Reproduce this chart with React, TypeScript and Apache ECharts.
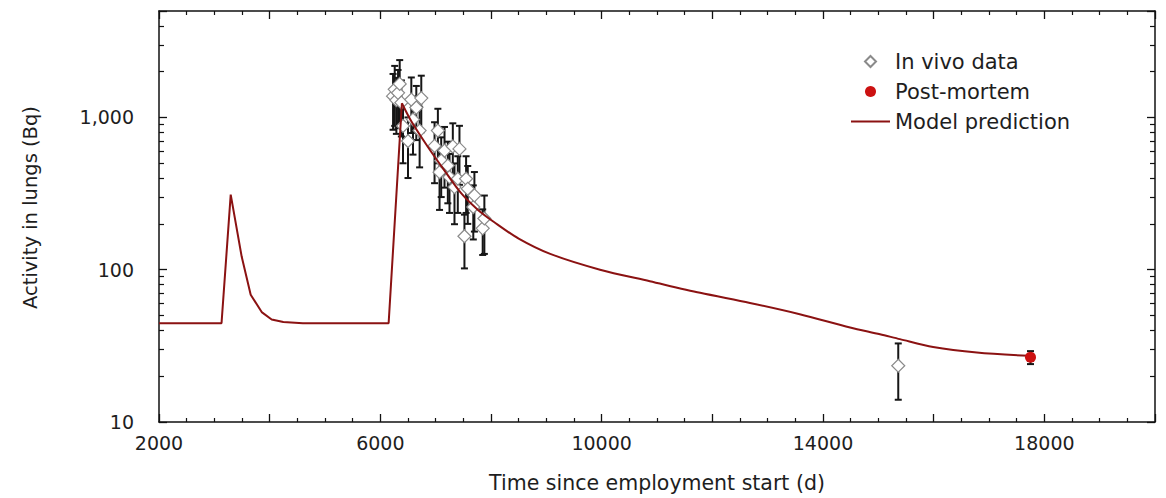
import React, { useEffect, useRef } from 'react';
import * as echarts from 'echarts';

// Model prediction curve (days, Bq): intake spikes, then smooth clearance
const modelRiseDays = [2000, 3130, 3296, 3494, 3657, 3856, 4036, 4247, 4600, 6150, 6390];
const modelRiseActivity = [44.5, 44.5, 311, 122, 68.5, 52.7, 47.1, 45.3, 44.5, 44.5, 1240];
const modelDecayDays = [6390, 6560, 6860, 7160, 7460, 7760, 8060, 8500, 9070, 9970, 10870, 11780, 12680, 13580, 14490, 15030, 15390, 15990, 16780, 17720];
const modelDecayActivity = [1240, 944, 640, 448, 318, 248, 205, 160, 127, 100, 84, 70.5, 60.5, 51, 41.8, 37.7, 35, 31.1, 28.6, 27.2];

// In vivo measurements (days, Bq, ± error)
const vivoDays = [6230, 6260, 6290, 6320, 6350, 6380, 6410, 6500, 6560, 6590, 6650, 6710, 6740, 6980, 7040, 7070, 7100, 7160, 7220, 7250, 7310, 7340, 7400, 7430, 7520, 7550, 7580, 7680, 7700, 7850, 7880, 15360];
const vivoActivity = [1380, 1530, 1300, 1450, 1660, 1250, 880, 700, 1310, 970, 1160, 820, 1340, 650, 820, 437, 520, 606, 483, 406, 645, 349, 396, 621, 166, 396, 340, 258, 308, 187, 217, 23.4];
const vivoError = [550, 650, 520, 600, 720, 500, 380, 300, 520, 400, 450, 350, 540, 280, 320, 190, 220, 260, 210, 170, 270, 150, 160, 260, 64, 160, 140, 100, 130, 62, 90, 9.4];

// Post-mortem measurement
const postDays = [17750];
const postActivity = [26.6];
const postError = [2.6];

const xLabelValues = [2000, 6000, 10000, 14000, 18000];
const yLabelValues = [10, 100, 1000];

const FONT = 'DejaVu Sans';
const TEXT = '#1e1e1e';
const AXIS = '#111';
const MODEL = '#8b1212';

export default function App() {
  const ref = useRef<HTMLDivElement>(null);

  useEffect(() => {
    document.body.style.margin = '0';
    const chart = echarts.init(ref.current!, null, { renderer: 'svg' });

    const errRender = (color: string, capW: number, width: number) => (params: any, api: any) => {
      const x = api.value(0);
      const lo = api.value(1);
      const hi = api.value(2);
      const top = api.coord([x, hi]);
      const bot = api.coord([x, lo]);
      const style = { stroke: color, lineWidth: width };
      return {
        type: 'group',
        children: [
          { type: 'line', shape: { x1: top[0], y1: top[1], x2: bot[0], y2: bot[1] }, style },
          { type: 'line', shape: { x1: top[0] - capW, y1: top[1], x2: top[0] + capW, y2: top[1] }, style },
          { type: 'line', shape: { x1: bot[0] - capW, y1: bot[1], x2: bot[0] + capW, y2: bot[1] }, style },
        ],
      };
    };

    const vivoErrData = vivoDays.map((d, i) => [d, vivoActivity[i] - vivoError[i], vivoActivity[i] + vivoError[i]]);
    const postErrData = postDays.map((d, i) => [d, postActivity[i] - postError[i], postActivity[i] + postError[i]]);

    const xCommon = {
      type: 'value',
      min: 2000,
      max: 20000,
      interval: 2000,
      splitLine: { show: false },
      axisLine: { show: true, onZero: false, lineStyle: { color: AXIS, width: 1.5 } },
      axisTick: { show: true, inside: true, length: 8, lineStyle: { color: AXIS, width: 1.3 } },
      minorTick: { show: true, splitNumber: 4, length: 4, lineStyle: { color: AXIS, width: 1.2 } },
    };
    const yCommon = {
      type: 'log',
      logBase: 10,
      min: 10,
      max: 5000,
      splitLine: { show: false },
      axisLine: { show: true, onZero: false, lineStyle: { color: AXIS, width: 1.5 } },
      axisTick: { show: true, inside: true, length: 8, lineStyle: { color: AXIS, width: 1.3 } },
      minorTick: { show: true, splitNumber: 9, length: 5, lineStyle: { color: AXIS, width: 1.2 } },
    };

    chart.setOption({
      animation: false,
      backgroundColor: '#fff',
      textStyle: { fontFamily: FONT },
      grid: { left: 159, right: 11, top: 11, bottom: 73, containLabel: false },
      legend: {
        orient: 'vertical',
        left: 851,
        top: 51,
        padding: 0,
        itemWidth: 39,
        itemHeight: 11,
        itemGap: 9,
        symbolKeepAspect: true,
        textStyle: { fontFamily: FONT, fontSize: 21, color: TEXT },
        data: [
          { name: 'In vivo data', icon: 'path://M0,-1L1,0L0,1L-1,0Z' },
          { name: 'Post-mortem', icon: 'circle' },
          { name: 'Model prediction', icon: 'path://M0,0L39,0L39,2L0,2Z', itemStyle: { color: MODEL, borderWidth: 0 } },
        ],
      },
      xAxis: [
        {
          ...xCommon,
          position: 'bottom',
          name: 'Time since employment start (d)',
          nameLocation: 'middle',
          nameGap: 50,
          nameTextStyle: { fontFamily: FONT, fontSize: 20.5, color: TEXT },
          axisLabel: {
            fontFamily: FONT,
            fontSize: 19,
            color: TEXT,
            margin: 11,
            formatter: (v: number) => (xLabelValues.includes(v) ? String(v) : ''),
          },
        },
        {
          ...xCommon,
          position: 'top',
          axisLabel: { show: false },
        },
      ],
      yAxis: [
        {
          ...yCommon,
          position: 'left',
          name: 'Activity in lungs (Bq)',
          nameLocation: 'middle',
          nameGap: 119,
          nameTextStyle: { fontFamily: FONT, fontSize: 19.5, color: TEXT, padding: [0, 0, 0, 18] },
          axisLabel: {
            fontFamily: FONT,
            fontSize: 19,
            color: TEXT,
            margin: 25,
            formatter: (v: number) => (yLabelValues.includes(Math.round(v)) ? Math.round(v).toLocaleString('en-US') : ''),
          },
        },
        {
          ...yCommon,
          position: 'right',
          axisLabel: { show: false },
        },
      ],
      series: [
        {
          name: 'vivoErr',
          type: 'custom',
          renderItem: errRender('#161616', 3.5, 2),
          encode: { x: 0, y: [1, 2] },
          data: vivoErrData,
          z: 2,
          silent: true,
        },
        {
          name: 'postErr',
          type: 'custom',
          renderItem: errRender('#161616', 3.5, 2),
          encode: { x: 0, y: [1, 2] },
          data: postErrData,
          z: 2,
          silent: true,
        },
        {
          name: 'In vivo data',
          type: 'scatter',
          symbol: 'diamond',
          symbolSize: 13,
          itemStyle: { color: '#ffffff', borderColor: '#8a8a8a', borderWidth: 1.2, opacity: 1 },
          data: vivoDays.map((d, i) => [d, vivoActivity[i]]),
          z: 3,
        },
        {
          name: 'Model prediction',
          type: 'line',
          symbol: 'none',
          showSymbol: false,
          lineStyle: { color: MODEL, width: 2 },
          itemStyle: { color: MODEL },
          data: modelRiseDays.map((d, i) => [d, modelRiseActivity[i]]),
          z: 4,
        },
        {
          name: 'Model prediction',
          type: 'line',
          symbol: 'none',
          showSymbol: false,
          smooth: 0.3,
          lineStyle: { color: MODEL, width: 2 },
          itemStyle: { color: MODEL },
          data: modelDecayDays.map((d, i) => [d, modelDecayActivity[i]]),
          z: 4,
        },
        {
          name: 'Post-mortem',
          type: 'scatter',
          symbol: 'circle',
          symbolSize: 11,
          itemStyle: { color: '#cc1111', opacity: 1 },
          data: postDays.map((d, i) => [d, postActivity[i]]),
          z: 5,
        },
      ],
    });

    return () => {
      chart.dispose();
    };
  }, []);

  return <div ref={ref} style={{ width: 1166, height: 498 }} />;
}
